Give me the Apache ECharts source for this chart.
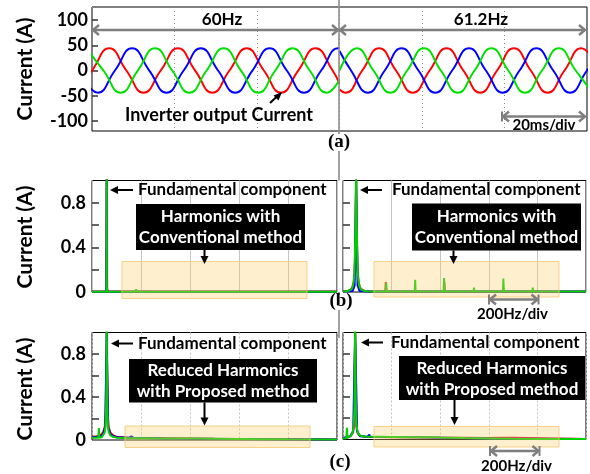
<!DOCTYPE html>
<html>
<head>
<meta charset="utf-8">
<script src="https://cdn.jsdelivr.net/npm/echarts@6/dist/echarts.min.js"></script>
<style>
  html, body { margin: 0; padding: 0; background: #fff; }
  #chart { width: 590px; height: 474px; }
</style>
</head>
<body>
<div id="chart"></div>
<script>
// ---------- (a) three-phase inverter output current: [time (ms), current (A)] ----------
// 60 Hz section (0 - 60 ms)
const phaseA60 = [[-4.17,-44],[0,0],[4.17,44],[8.33,0],[12.5,-44],[16.67,0],[20.83,44],[25,0],[29.17,-44],[33.33,0],[37.5,44],[41.67,0],[45.83,-44],[50,0],[54.17,44],[58.33,0],[60,-26]];
const phaseB60 = [[-2.78,0],[1.39,-44],[5.56,0],[9.72,44],[13.89,0],[18.06,-44],[22.22,0],[26.39,44],[30.56,0],[34.72,-44],[38.89,0],[43.06,44],[47.22,0],[51.39,-44],[55.56,0],[59.72,44],[60,44]];
const phaseC60 = [[-1.39,44],[2.78,0],[6.94,-44],[11.11,0],[15.28,44],[19.44,0],[23.61,-44],[27.78,0],[31.94,44],[36.11,0],[40.28,-44],[44.44,0],[48.61,44],[52.78,0],[56.94,-44],[60,-18]];
// 61.2 Hz section (60 - 120 ms)
const phaseA612 = [[60,-37.5],[61.43,-44],[65.52,0],[69.6,44],[73.69,0],[77.77,-44],[81.86,0],[85.94,44],[90.03,0],[94.11,-44],[98.2,0],[102.28,44],[106.37,0],[110.45,-44],[114.54,0],[118.62,44],[122.71,0]];
const phaseB612 = [[60,38.7],[62.8,0],[66.88,-44],[70.97,0],[75.05,44],[79.14,0],[83.22,-44],[87.31,0],[91.39,44],[95.48,0],[99.56,-44],[103.65,0],[107.73,44],[111.82,0],[115.9,-44],[119.99,0],[124.07,44]];
const phaseC612 = [[60,0],[64.15,44],[68.23,0],[72.32,-44],[76.41,0],[80.49,44],[84.57,0],[88.66,-44],[92.75,0],[96.83,44],[100.91,0],[105,-44],[109.09,0],[113.17,44],[117.25,0],[121.34,-44]];

// ---------- (b) spectra, conventional method: [frequency (Hz), amplitude (A)] ----------
const convA60 = [[0,0.004],[56,0.004],[58,0.03],[60,1.2],[62,0.03],[64,0.004],[178,0.004],[180,0.015],[182,0.004],[418,0.004],[420,0.01],[422,0.004],[1000,0.004]];
const convB60 = [[0,0.003],[57,0.003],[59,0.04],[60,1.2],[61,0.04],[63,0.003],[118,0.003],[120,0.012],[122,0.003],[1000,0.003]];
const convC60 = [[0,0.003],[58,0.003],[59.5,0.05],[60,1.3],[60.5,0.05],[62,0.003],[178,0.003],[180,0.024],[182,0.003],[298,0.003],[300,0.01],[302,0.003],[418,0.003],[420,0.016],[422,0.003],[538,0.003],[540,0.014],[542,0.003],[658,0.003],[660,0.02],[662,0.003],[778,0.003],[780,0.012],[782,0.003],[898,0.003],[900,0.008],[902,0.003],[1000,0.003]];

const convA612 = [[0,0.005],[20,0.01],[30,0.02],[38,0.04],[44,0.09],[48,0.2],[51,0.5],[54,1.05],[57,0.5],[60,0.2],[64,0.09],[70,0.04],[78,0.02],[90,0.01],[110,0.005],[174,0.005],[176,0.09],[178,0.005],[415,0.005],[417,0.09],[419,0.005],[1000,0.005]];
const convB612 = [[0,0.004],[40,0.01],[48,0.06],[54,1.0],[60,0.06],[68,0.01],[110,0.004],[236,0.004],[238,0.015],[240,0.004],[1000,0.004]];
const convC612 = [[0,0.004],[10,0.006],[24,0.012],[34,0.025],[40,0.05],[44,0.09],[47,0.18],[49,0.32],[51,0.55],[52.5,0.8],[54,1.1],[55.5,0.8],[57,0.55],[59,0.32],[61,0.18],[64,0.09],[68,0.05],[74,0.025],[84,0.012],[100,0.006],[120,0.004],[176,0.004],[178,0.08],[180,0.004],[295,0.004],[297,0.11],[299,0.004],[414,0.004],[416,0.125],[418,0.004],[537,0.004],[539,0.04],[541,0.004],[658,0.004],[660,0.12],[662,0.004],[779,0.004],[781,0.04],[783,0.004],[902,0.004],[904,0.02],[906,0.004],[1000,0.004]];

// ---------- (c) spectra, proposed method ----------
const propA60 = [[0,0.03],[20,0.035],[35,0.045],[45,0.07],[52,0.12],[56,0.25],[60,1.0],[64,0.25],[68,0.12],[75,0.07],[85,0.045],[100,0.03],[150,0.02],[300,0.016],[500,0.012],[700,0.009],[1000,0.005]];
const propB60 = [[0,0.025],[30,0.03],[45,0.05],[54,0.12],[60,1.0],[66,0.12],[75,0.05],[100,0.025],[150,0.02],[160,0.035],[170,0.02],[300,0.015],[600,0.01],[1000,0.005]];
const propC60 = [[0,0.02],[26,0.02],[28,0.11],[30,0.02],[40,0.025],[48,0.04],[52,0.07],[55,0.13],[57,0.25],[58.5,0.45],[60,1.1],[61.5,0.45],[63,0.25],[65,0.13],[68,0.075],[74,0.045],[84,0.03],[100,0.022],[140,0.018],[215,0.016],[217,0.028],[219,0.016],[300,0.014],[340,0.014],[342,0.026],[344,0.014],[420,0.013],[500,0.012],[600,0.01],[700,0.008],[800,0.006],[1000,0.005]];

const propA612 = [[0,0.015],[20,0.02],[32,0.035],[40,0.06],[45,0.12],[50,1.0],[55,0.12],[60,0.06],[70,0.035],[90,0.025],[200,0.022],[400,0.018],[600,0.015],[640,0.017],[700,0.016],[810,0.012],[1000,0.005]];
const propB612 = [[0,0.012],[30,0.03],[42,0.08],[50,1.0],[58,0.08],[70,0.03],[100,0.025],[108,0.045],[112,0.025],[300,0.02],[600,0.01],[1000,0.004]];
const propC612 = [[0,0.01],[14,0.012],[16,0.11],[18,0.015],[26,0.025],[34,0.04],[40,0.07],[44,0.13],[47,0.3],[50,1.1],[53,0.3],[56,0.13],[60,0.07],[66,0.045],[76,0.032],[90,0.027],[120,0.025],[160,0.025],[162,0.036],[164,0.025],[200,0.024],[290,0.022],[292,0.035],[294,0.022],[380,0.02],[382,0.03],[384,0.02],[400,0.018],[500,0.013],[600,0.01],[700,0.007],[800,0.005],[1000,0.004]];

// ---------- axis ticks ----------
const currentTicks = [-100, -50, 0, 50, 100];
const ampTicks = [0.2, 0.4, 0.6, 0.8];
const ampLabels = [0, 0.4, 0.8];

const RED = '#ff0000', BLUE = '#0000ff', GREEN = '#00e000', GREEN2 = '#00d000';
const FONT = 'Lato, "Open Sans", sans-serif';
const GRAY = '#7f7f7f';

const chart = echarts.init(document.getElementById('chart'), null, { renderer: 'canvas' });

// grids: (a), (b) left/right, (c) left/right
const grids = [
  { left: 92, top: 7, width: 495, height: 124 },
  { left: 92, top: 180.5, width: 245, height: 111.5 },
  { left: 343, top: 180.5, width: 243, height: 111.5 },
  { left: 92, top: 332.5, width: 245, height: 107.5 },
  { left: 343, top: 332.5, width: 243, height: 107 }
].map(g => Object.assign({ show: true, borderColor: '#000', borderWidth: 1, backgroundColor: 'transparent' }, g));

const xAxes = [
  { gridIndex: 0, type: 'value', min: 0, max: 120, interval: 20,
    axisLine: { show: false }, axisTick: { show: false }, axisLabel: { show: false },
    splitLine: { show: true, lineStyle: { color: '#8a8a8a', type: [1, 3], width: 1 } } }
];
for (let i = 1; i <= 4; i++) {
  xAxes.push({ gridIndex: i, type: 'value', min: 0, max: 1000, interval: 200,
    axisLine: { show: false }, axisTick: { show: false }, axisLabel: { show: false },
    splitLine: { show: true, lineStyle: { color: '#c4c4c4', width: 1, type: i >= 3 ? [2, 2] : 'solid' } } });
}

const yAxes = [
  { gridIndex: 0, type: 'value', min: -120, max: 126,
    axisLine: { show: false }, splitLine: { show: false },
    axisTick: { show: true, inside: true, length: 6, customValues: currentTicks, lineStyle: { color: '#333', width: 1.5 } },
    axisLabel: { show: true, customValues: currentTicks, margin: 4, color: '#000', fontWeight: 'bold', fontSize: 18, fontFamily: FONT } }
];
for (let i = 1; i <= 4; i++) {
  const leftSide = (i === 1 || i === 3);
  yAxes.push({ gridIndex: i, type: 'value', min: 0, max: 1,
    axisLine: { show: false }, splitLine: { show: false },
    axisTick: { show: true, inside: true, length: 7, customValues: ampTicks, lineStyle: { color: '#333', width: 1.5 } },
    axisLabel: { show: leftSide, customValues: ampLabels, margin: 6, color: '#000', fontWeight: 'bold', fontSize: 18, fontFamily: FONT } });
}

function wave(data, color, idx) {
  return { type: 'line', xAxisIndex: idx, yAxisIndex: idx, data, smooth: 0.5, showSymbol: false, symbol: 'none',
    clip: true, lineStyle: { color, width: 2 }, itemStyle: { color }, z: 2 };
}
function spectrum(data, color, idx) {
  return { type: 'line', xAxisIndex: idx, yAxisIndex: idx, data, showSymbol: false, symbol: 'none',
    clip: true, lineStyle: { color, width: 2 }, itemStyle: { color }, z: 2 };
}

const series = [
  wave(phaseA60, RED, 0), wave(phaseB60, BLUE, 0), wave(phaseC60, GREEN, 0),
  wave(phaseA612, RED, 0), wave(phaseB612, BLUE, 0), wave(phaseC612, GREEN, 0),
  spectrum(convA60, RED, 1), spectrum(convB60, BLUE, 1), spectrum(convC60, GREEN2, 1),
  spectrum(convA612, RED, 2), spectrum(convB612, BLUE, 2), spectrum(convC612, GREEN2, 2),
  spectrum(propA60, RED, 3), spectrum(propB60, BLUE, 3), spectrum(propC60, GREEN2, 3),
  spectrum(propA612, RED, 4), spectrum(propB612, BLUE, 4), spectrum(propC612, GREEN2, 4)
];

// ---------- annotation helpers ----------
function txt(x, y, str, size, extra) {
  return { type: 'text', x, y, z: 120,
    style: Object.assign({ text: str, fill: '#000', font: 'bold ' + size + 'px ' + FONT,
      align: 'center', verticalAlign: 'middle', textAlign: 'center', textVerticalAlign: 'middle' }, extra || {}) };
}
function seg(x1, y1, x2, y2, color, w) {
  return { type: 'line', z: 110, shape: { x1, y1, x2, y2 }, style: { stroke: color, lineWidth: w } };
}
function poly(points, color) {
  return { type: 'polygon', z: 110, shape: { points }, style: { fill: color } };
}
function chevron(points, color) {
  return { type: 'polyline', z: 110, shape: { points }, style: { stroke: color, lineWidth: 2.5, fill: null } };
}
function box(x, y, w, h, fill, stroke) {
  return { type: 'rect', z: 105, shape: { x, y, width: w, height: h },
    style: { fill, stroke: stroke || null, lineWidth: stroke ? 1 : 0 } };
}
// gray double-headed span arrow
function span(x1, x2, y, bars) {
  const out = [seg(x1 + 1, y, x2 - 1, y, GRAY, 2.5),
    chevron([[x1 + 7, y - 5], [x1 + 1, y], [x1 + 7, y + 5]], GRAY),
    chevron([[x2 - 7, y - 5], [x2 - 1, y], [x2 - 7, y + 5]], GRAY)];
  if (bars) {
    out.push(seg(x1, y - 5, x1, y + 5, GRAY, 2));
    if (bars === 2) out.push(seg(x2, y - 5, x2, y + 5, GRAY, 2));
  }
  return out;
}
// black arrow pointing left at a peak
function leftArrow(xTip, xTail, y) {
  return [seg(xTip + 6, y, xTail, y, '#000', 2), poly([[xTip, y], [xTip + 8, y - 4], [xTip + 8, y + 4]], '#000')];
}
function downArrow(x, yTop, yTip) {
  return [seg(x, yTop, x, yTip - 6, '#000', 2), poly([[x, yTip], [x - 4, yTip - 8], [x + 4, yTip - 8]], '#000')];
}

const ORANGE_FILL = 'rgba(252, 205, 110, 0.33)';
const ORANGE_EDGE = 'rgba(245, 200, 110, 0.8)';

const graphics = [
  // divider between the 60 Hz and 61.2 Hz sections
  seg(339, 0, 339, 134, '#8c8c8c', 1.6),
  seg(339, 151, 339, 180.5, '#8c8c8c', 1.6),
  seg(339, 292, 339, 295, '#8c8c8c', 1.6),
  seg(339, 310, 339, 338, '#8c8c8c', 1.6),

  // y-axis titles
  Object.assign(txt(25, 69, 'Current (A)', 21), { rotation: Math.PI / 2 }),
  Object.assign(txt(25, 237, 'Current (A)', 21), { rotation: Math.PI / 2 }),
  Object.assign(txt(25, 389, 'Current (A)', 21), { rotation: Math.PI / 2 }),

  // (a)
  txt(222, 20, '60Hz', 17),
  txt(481, 20, '61.2Hz', 17),
  ...span(92, 339, 30, 0),
  ...span(339, 586, 30, 0),
  ...span(502, 586, 116.5, 1),
  txt(544, 125, '20ms/div', 15),
  txt(219, 115, 'Inverter output Current', 18),
  seg(270, 103, 278, 95.5, '#000', 2),
  poly([[282, 92], [273.5, 95.5], [278.5, 100.5]], '#000'),
  txt(339, 142, '(a)', 19, { font: 'bold 19px "Liberation Serif", serif' }),

  // (b) left
  ...leftArrow(110, 133, 190),
  txt(138, 190, 'Fundamental component', 17, { align: 'left', textAlign: 'left' }),
  box(136, 204, 169, 46, '#000'),
  txt(220.5, 216.5, 'Harmonics with', 17, { fill: '#fff' }),
  txt(220.5, 238, 'Conventional method', 17, { fill: '#fff' }),
  ...downArrow(204.5, 250, 264),
  box(122, 261.5, 185, 37, ORANGE_FILL, ORANGE_EDGE),
  // (b) right
  ...leftArrow(360, 382, 190),
  txt(392, 190, 'Fundamental component', 17, { align: 'left', textAlign: 'left' }),
  box(412, 203.5, 169, 47, '#000'),
  txt(496.5, 216.5, 'Harmonics with', 17, { fill: '#fff' }),
  txt(496.5, 238, 'Conventional method', 17, { fill: '#fff' }),
  ...downArrow(453.5, 250.5, 264),
  box(374, 261.5, 185, 35.5, ORANGE_FILL, ORANGE_EDGE),
  ...span(489, 538.5, 299.5, 2),
  txt(512.5, 314, '200Hz/div', 15),
  txt(341, 301, '(b)', 19, { font: 'bold 19px "Liberation Serif", serif' }),

  // (c) left
  ...leftArrow(111, 133, 343.5),
  txt(138, 343.5, 'Fundamental component', 17, { align: 'left', textAlign: 'left' }),
  box(129, 359, 188, 43.5, '#000'),
  txt(223, 371, 'Reduced Harmonics', 17, { fill: '#fff' }),
  txt(223, 391.5, 'with Proposed method', 17, { fill: '#fff' }),
  ...downArrow(204.5, 402.5, 425.5),
  box(125, 426, 185, 21.5, ORANGE_FILL, ORANGE_EDGE),
  // (c) right
  ...leftArrow(361, 383, 342.5),
  txt(391, 342.5, 'Fundamental component', 17, { align: 'left', textAlign: 'left' }),
  box(399, 356, 186, 44, '#000'),
  txt(492, 368.5, 'Reduced Harmonics', 17, { fill: '#fff' }),
  txt(492, 389.5, 'with Proposed method', 17, { fill: '#fff' }),
  ...downArrow(454.5, 400, 425),
  box(374, 426.5, 185, 20.5, ORANGE_FILL, ORANGE_EDGE),
  ...span(490, 539.5, 451, 2),
  txt(516.5, 466, '200Hz/div', 15),
  txt(340, 462, '(c)', 19, { font: 'bold 19px "Liberation Serif", serif' })
];

chart.setOption({
  animation: false,
  backgroundColor: '#fff',
  grid: grids,
  xAxis: xAxes,
  yAxis: yAxes,
  series,
  graphic: graphics
});
</script>
</body>
</html>
